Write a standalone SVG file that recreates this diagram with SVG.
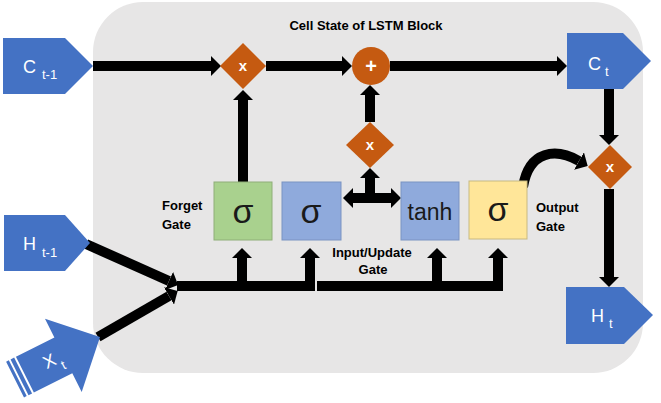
<svg xmlns="http://www.w3.org/2000/svg" width="661" height="403" viewBox="0 0 661 403">
<style>
.io{fill:#4472c4}
.iot{fill:#fff;font-family:"Liberation Sans",Arial,sans-serif;font-size:18px}
.sub{font-size:13px}
.op{fill:#c55a11}
.opt{fill:#fff;font-family:"Liberation Sans",Arial,sans-serif;font-weight:bold;text-anchor:middle}
.lbl{fill:#000;font-family:"Liberation Sans",Arial,sans-serif;font-weight:bold;font-size:13px}
.sym{fill:#1a1a1a;font-family:"Liberation Sans","DejaVu Sans",sans-serif;text-anchor:middle}
.ln{fill:none;stroke:#000;stroke-width:10;stroke-linejoin:miter;stroke-linecap:butt}
</style>
<defs>
<marker id="ah" viewBox="0 0 10 20" refX="0" refY="10" markerWidth="1" markerHeight="2" orient="auto-start-reverse" markerUnits="strokeWidth">
<path d="M0,0 L10,10 L0,20 z" fill="#000"/>
</marker>
</defs>
<rect id="block" x="93" y="2" width="550" height="371" rx="50" ry="50" fill="#e7e6e6"/>
<text id="title" x="366" y="30" class="lbl" text-anchor="middle">Cell State of LSTM Block</text>

<g id="connectors">
<path class="ln" d="M93,66 H211" marker-end="url(#ah)"/>
<path class="ln" d="M243,182 V100" marker-end="url(#ah)"/>
<path class="ln" d="M266,66 H342" marker-end="url(#ah)"/>
<path class="ln" d="M390,66 H557" marker-end="url(#ah)"/>
<path class="ln" d="M370,122 V95" marker-end="url(#ah)"/>
<path class="ln" d="M609,89 V135" marker-end="url(#ah)"/>
<path class="ln" d="M609,189 V277" marker-end="url(#ah)"/>
<path class="ln" d="M370,198 V178" marker-end="url(#ah)"/>
<path class="ln" d="M353,198 H391" marker-start="url(#ah)" marker-end="url(#ah)"/>
<path class="ln" d="M523,187 C529,150 556,148 579,161" marker-end="url(#ah)"/>
<path class="ln" d="M86,244 L169,281" marker-end="url(#ah)"/>
<path class="ln" d="M98,337 L169,296" marker-end="url(#ah)"/>
<path class="ln" d="M177,286 H242 V258" marker-end="url(#ah)"/>
<path class="ln" d="M244,286 H310 V258" marker-end="url(#ah)"/>
<path class="ln" d="M317,286 H437 V258" marker-end="url(#ah)"/>
<path class="ln" d="M439,286 H498 V258" marker-end="url(#ah)"/>
</g>

<g id="c_prev">
<polygon class="io" points="3,38 65,38 93,66 65,94 3,94"/>
<text class="iot" x="23" y="73">C</text><text class="iot sub" x="42" y="79">t-1</text>
</g>
<g id="c_t">
<polygon class="io" points="567,33 623,33 651,61 623,89 567,89"/>
<text class="iot" x="588" y="70">C</text><text class="iot sub" x="605" y="76">t</text>
</g>
<g id="h_prev">
<polygon class="io" points="4,215 65,215 90,243 65,271 4,271"/>
<text class="iot" x="23" y="250">H</text><text class="iot sub" x="42" y="257">t-1</text>
</g>
<g id="h_t">
<polygon class="io" points="566,287 624,287 653,315 624,344 566,344"/>
<text class="iot" x="591" y="322">H</text><text class="iot sub" x="609" y="328">t</text>
</g>
<g id="x_t" transform="translate(100,337) rotate(-26.6)">
<polygon class="io" points="0,0 -41,-41 -41,-20 -84,-20 -84,20 -41,20 -41,41"/>
<rect class="io" x="-95" y="-20" width="3" height="40"/>
<rect class="io" x="-90" y="-20" width="4" height="40"/>
<text class="iot" x="-62" y="5">X</text><text class="iot sub" x="-47" y="13">t</text>
</g>

<g id="mult_forget">
<polygon class="op" points="243,43 266,66 243,89 220,66"/>
<text class="opt" x="243" y="71" font-size="15">x</text>
</g>
<g id="add">
<circle class="op" cx="371" cy="66" r="19"/>
<text class="opt" x="371" y="73" font-size="20">+</text>
</g>
<g id="mult_input">
<polygon class="op" points="370,122 394,145 370,168 346,145"/>
<text class="opt" x="370" y="150" font-size="15">x</text>
</g>
<g id="mult_output">
<polygon class="op" points="610,145 632,167 610,189 588,167"/>
<text class="opt" x="610" y="172" font-size="15">x</text>
</g>

<g id="forget_gate">
<rect x="214" y="182" width="58" height="58" fill="#a9d18e" stroke="#8fae79" stroke-width="1"/>
<text class="sym" x="243" y="223" font-size="34">σ</text>
<text class="lbl" x="162" y="210">Forget</text>
<text class="lbl" x="162" y="229">Gate</text>
</g>
<g id="input_gate">
<rect x="282" y="182" width="59" height="58" fill="#8faadc" stroke="#7a93c2" stroke-width="1"/>
<text class="sym" x="311" y="223" font-size="34">σ</text>
</g>
<g id="tanh_gate">
<rect x="401" y="182" width="58" height="58" fill="#8faadc" stroke="#7a93c2" stroke-width="1"/>
<text class="sym" x="430" y="220" font-size="23">tanh</text>
<text class="lbl" x="372" y="257" text-anchor="middle">Input/Update</text>
<text class="lbl" x="373" y="274" text-anchor="middle">Gate</text>
</g>
<g id="output_gate">
<rect x="469" y="181" width="58" height="58" fill="#ffe699" stroke="#c8b981" stroke-width="1"/>
<text class="sym" x="498" y="221" font-size="34">σ</text>
<text class="lbl" x="536" y="212">Output</text>
<text class="lbl" x="536" y="231">Gate</text>
</g>
</svg>
